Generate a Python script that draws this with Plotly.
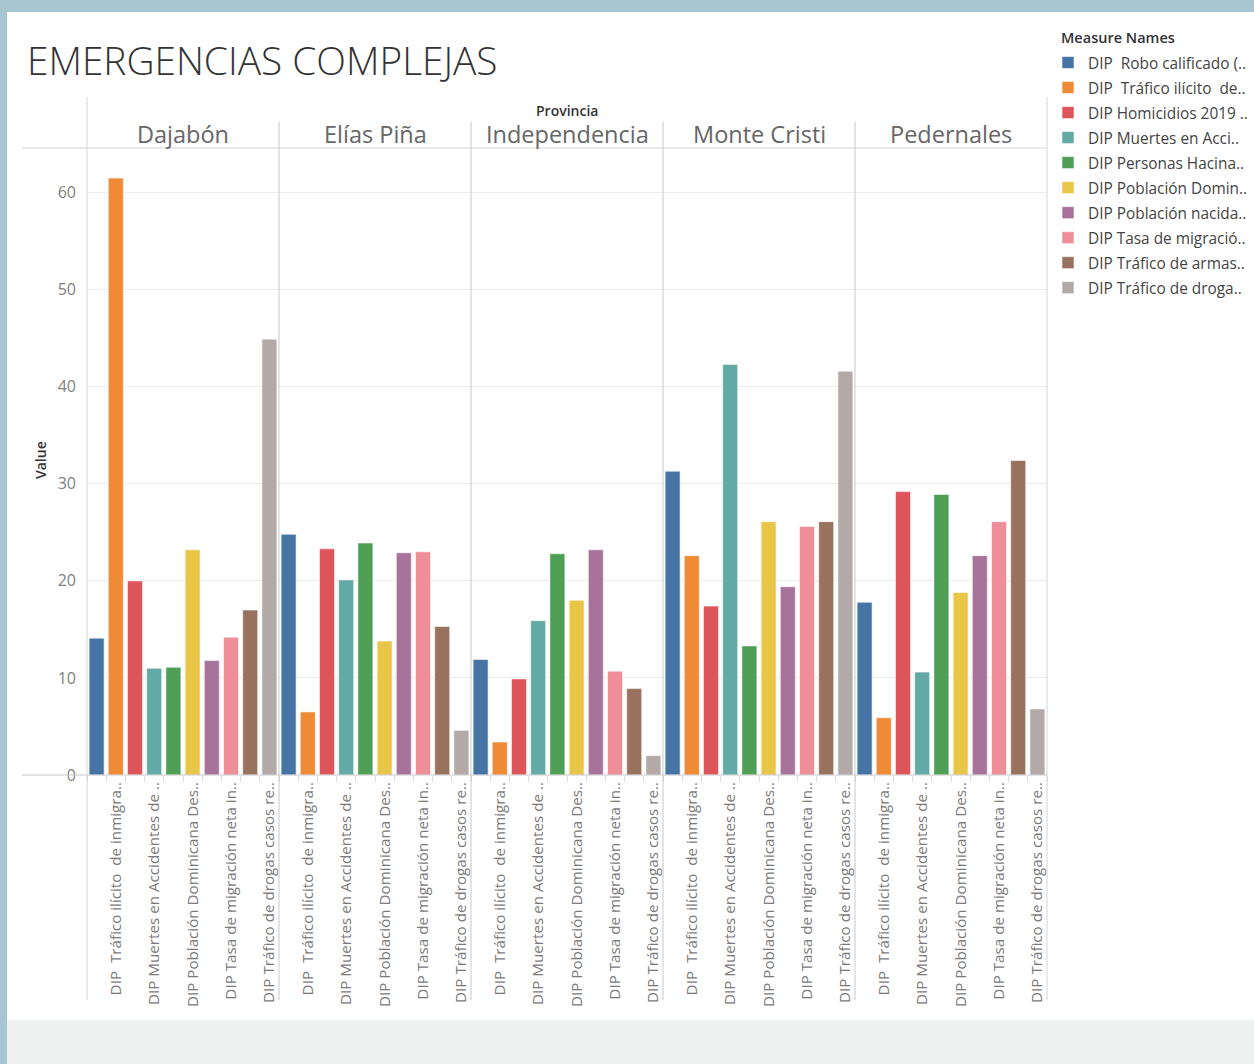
import plotly.graph_objects as go

# ---- data -------------------------------------------------------------
provinces = ["Dajabón", "Elías Piña", "Independencia", "Monte Cristi", "Pedernales"]

measures = [
    "DIP\u00a0 Robo calificado (..",
    "DIP\u00a0 Tráfico ilícito\u00a0 de..",
    "DIP Homicidios 2019 ..",
    "DIP Muertes en Acci..",
    "DIP Personas Hacina..",
    "DIP Población Domin..",
    "DIP Población nacida..",
    "DIP Tasa de migració..",
    "DIP Tráfico de armas..",
    "DIP Tráfico de droga..",
]

# axis labels shown under every second measure
axis_labels = [
    "DIP\u00a0 Tráfico ilícito\u00a0 de inmigra..",
    "DIP Muertes en Accidentes de ..",
    "DIP Población Dominicana Des..",
    "DIP Tasa de migración neta in..",
    "DIP Tráfico de drogas casos re..",
]

dajabon = [14.1, 61.5, 20.0, 11.0, 11.1, 23.2, 11.8, 14.2, 17.0, 44.9]
elias_pina = [24.8, 6.5, 23.3, 20.1, 23.9, 13.8, 22.9, 23.0, 15.3, 4.6]
independencia = [11.9, 3.4, 9.9, 15.9, 22.8, 18.0, 23.2, 10.7, 8.9, 2.0]
monte_cristi = [31.3, 22.6, 17.4, 42.3, 13.3, 26.1, 19.4, 25.6, 26.1, 41.6]
pedernales = [17.8, 5.9, 29.2, 10.6, 28.9, 18.8, 22.6, 26.1, 32.4, 6.8]

values_by_province = [dajabon, elias_pina, independencia, monte_cristi, pedernales]

y_ticks = [0, 10, 20, 30, 40, 50, 60]

colors = ["#4674a5", "#ef8a36", "#de555c", "#63a9a5", "#4f9e55",
          "#e9c548", "#a8739a", "#ee8e99", "#98725f", "#b3a9a6"]

# ---- geometry helpers (pixel -> paper) ---------------------------------
W, H = 1254, 1064
def fx(px):
    return px / W
def fy(py):
    return 1 - py / H

PANEL_LEFT = 87
PANEL_W = 192
PLOT_TOP = 148
PLOT_BOTTOM = 775
LABEL_BOTTOM = 1000
FONT = "'Open Sans', Lato, sans-serif"
LINE = "#d5d5d5"

fig = go.Figure()

for k, vals in enumerate(values_by_province):
    xa = "x" if k == 0 else f"x{k + 1}"
    for i, m in enumerate(measures):
        fig.add_trace(go.Bar(
            x=[m], y=[vals[i]],
            xaxis=xa, yaxis="y",
            name=m, legendgroup=m, showlegend=(k == 0),
            marker=dict(color=colors[i],
                        line=dict(color="rgba(255,255,255,0.55)", width=1)),
            hovertemplate=f"{provinces[k]}<br>{m}: %{{y}}<extra></extra>",
        ))

tick_text = []
j = 0
for i in range(len(measures)):
    if i % 2 == 1:
        tick_text.append(axis_labels[j])
        j += 1
    else:
        tick_text.append("")

layout_axes = {}
for k in range(len(provinces)):
    key = "xaxis" if k == 0 else f"xaxis{k + 1}"
    left = PANEL_LEFT + PANEL_W * k
    layout_axes[key] = dict(
        domain=[fx(left), fx(left + PANEL_W)],
        anchor="y",
        type="category",
        categoryorder="array",
        categoryarray=measures,
        tickmode="array",
        tickvals=measures,
        ticktext=tick_text,
        tickangle=-90,
        ticks="outside",
        tickson="boundaries",
        ticklen=6,
        tickcolor="#dcdcdc",
        ticklabelstandoff=3,
        tickfont=dict(family=FONT, size=15.2, color="#7a7a7a"),
        showgrid=False,
        showline=False,
        zeroline=False,
        automargin=False,
        fixedrange=True,
    )

fig.update_layout(
    **layout_axes,
    yaxis=dict(
        domain=[fy(PLOT_BOTTOM), fy(PLOT_TOP)],
        anchor="x",
        range=[0, 64.6],
        tickmode="array",
        tickvals=y_ticks,
        gridcolor="#ececec",
        gridwidth=1,
        showline=False,
        zeroline=False,
        ticks="",
        ticklabelstandoff=10,
        tickfont=dict(family=FONT, size=16, color="#808080"),
        automargin=False,
        fixedrange=True,
    ),
    barmode="overlay",
    bargap=0.22,
    width=W, height=H,
    autosize=False,
    margin=dict(l=0, r=0, t=0, b=0, pad=0, autoexpand=False),
    paper_bgcolor="#a7c6d2",
    plot_bgcolor="rgba(0,0,0,0)",
    font=dict(family=FONT, color="#444"),
    legend=dict(
        x=fx(1048), y=fy(46), xanchor="left", yanchor="top",
        font=dict(family=FONT, size=15.4, color="#444"),
        bgcolor="rgba(0,0,0,0)",
        traceorder="grouped",
        tracegroupgap=2,
        itemclick=False, itemdoubleclick=False,
    ),
    showlegend=True,
)

shapes = [
    # white dashboard panel and grey footer
    dict(type="rect", xref="paper", yref="paper", layer="below",
         x0=fx(7), x1=1, y0=fy(1020), y1=fy(12),
         fillcolor="white", line=dict(width=0)),
    dict(type="rect", xref="paper", yref="paper", layer="below",
         x0=fx(7), x1=1, y0=0, y1=fy(1020),
         fillcolor="#eff1f0", line=dict(width=0)),
    # header bottom rule and baseline
    dict(type="line", xref="paper", yref="paper",
         x0=fx(22), x1=fx(1047), y0=fy(PLOT_TOP), y1=fy(PLOT_TOP),
         line=dict(color=LINE, width=1)),
    dict(type="line", xref="paper", yref="paper",
         x0=fx(22), x1=fx(1047), y0=fy(PLOT_BOTTOM), y1=fy(PLOT_BOTTOM),
         line=dict(color="#c8c8c8", width=1)),
    # outer vertical rules
    dict(type="line", xref="paper", yref="paper",
         x0=fx(PANEL_LEFT), x1=fx(PANEL_LEFT), y0=fy(LABEL_BOTTOM), y1=fy(97),
         line=dict(color=LINE, width=1)),
    dict(type="line", xref="paper", yref="paper",
         x0=fx(1047), x1=fx(1047), y0=fy(LABEL_BOTTOM), y1=fy(97),
         line=dict(color=LINE, width=1)),
]
for k in range(1, len(provinces)):
    xp = PANEL_LEFT + PANEL_W * k
    shapes.append(dict(type="line", xref="paper", yref="paper",
                       x0=fx(xp), x1=fx(xp), y0=fy(LABEL_BOTTOM), y1=fy(122),
                       line=dict(color="#c9c9c9", width=1)))

annotations = [
    dict(text="EMERGENCIAS COMPLEJAS", xref="paper", yref="paper",
         x=fx(25), y=fy(60), xanchor="left", yanchor="middle", showarrow=False,
         font=dict(family=FONT, size=38.8, color="#333", weight=300)),
    dict(text="Measure Names", xref="paper", yref="paper",
         x=fx(1059), y=fy(38), xanchor="left", yanchor="middle", showarrow=False,
         font=dict(family=FONT, size=14.5, color="#333", weight=600)),
    dict(text="Provincia", xref="paper", yref="paper",
         x=fx(567), y=fy(110), xanchor="center", yanchor="middle", showarrow=False,
         font=dict(family=FONT, size=14, color="#333", weight=600)),
    dict(text="Value", xref="paper", yref="paper", textangle=-90,
         x=fx(41), y=fy(460), xanchor="center", yanchor="middle", showarrow=False,
         font=dict(family=FONT, size=14, color="#333", weight=600)),
]
for k, p in enumerate(provinces):
    annotations.append(dict(
        text=p, xref="paper", yref="paper",
        x=fx(PANEL_LEFT + PANEL_W * k + PANEL_W / 2), y=fy(134),
        xanchor="center", yanchor="middle", showarrow=False,
        font=dict(family=FONT, size=23.5, color="#666")))

fig.update_layout(shapes=shapes, annotations=annotations)

fig.write_html("out.html", config={"displayModeBar": False})
